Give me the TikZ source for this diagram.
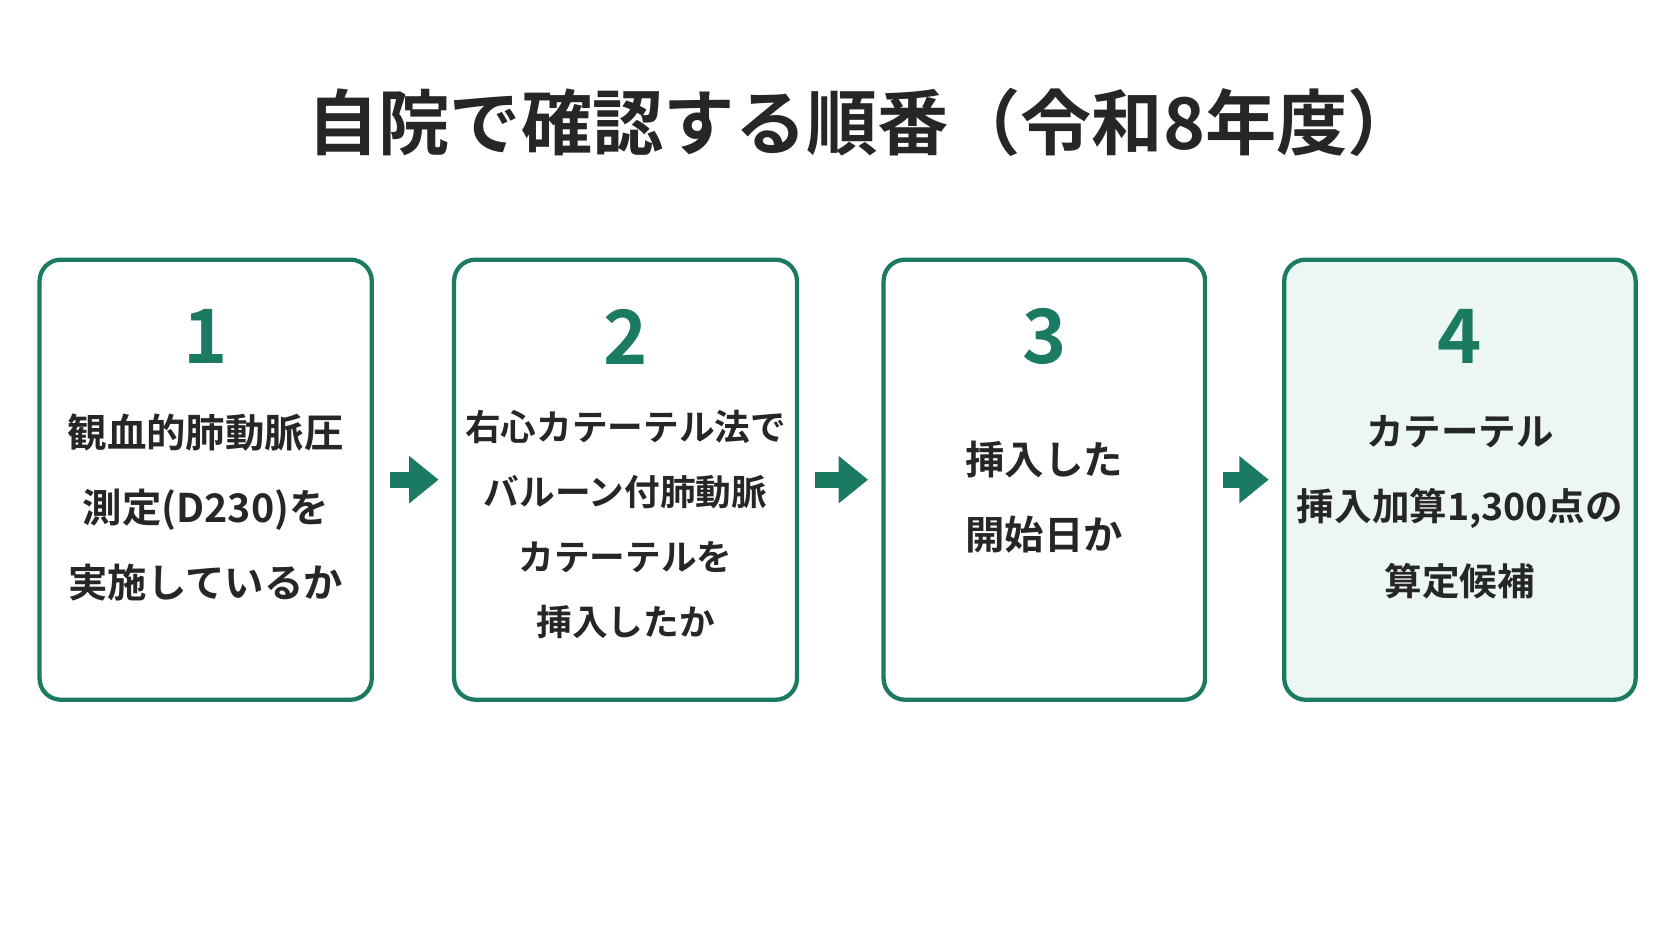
\documentclass[tikz,border=0pt]{standalone}
\usepackage{fontspec}
\newfontfamily\cjk{Noto Sans CJK JP}[BoldFont={* Bold}]
\usetikzlibrary{arrows.meta}
\definecolor{stepgreen}{RGB}{26,122,98}
\definecolor{lastfill}{RGB}{236,246,242}

\begin{document}
\begin{tikzpicture}[%
  x=0.02cm, y=-0.02cm,
  >={Triangle[length=0.55cm,width=0.85cm]},
  stepbox/.style={draw=stepgreen, line width=0.08cm, rounded corners=0.4cm,
    minimum height=8.24cm, fill=white},
  num/.style={text=stepgreen, font=\cjk\bfseries\fontsize{40}{40}\selectfont},
  body/.style={align=center, text=black!85},
  go/.style={->, draw=stepgreen, line width=0.3cm, shorten <=0.3cm, shorten >=0.25cm},
]
  \useasboundingbox (0,0) rectangle (1565,881);

  \node[font=\cjk\bfseries\fontsize{38}{38}\selectfont, text=black!85] (title) at (808,115) {自院で確認する順番（令和8年度）};

  \node[stepbox, minimum width=6.22cm] (b1) at (192.5,449) {};
  \node[stepbox, minimum width=6.42cm] (b2) at (585.5,449) {};
  \node[stepbox, minimum width=6.02cm] (b3) at (977.5,449) {};
  \node[stepbox, minimum width=6.58cm, fill=lastfill] (b4) at (1366.5,449) {};

  \node[num] (n1) at (192.5,315) {1};
  \node[num] (n2) at (585.5,315) {2};
  \node[num] (n3) at (977.5,315) {3};
  \node[num] (n4) at (1366.5,315) {4};

  \node[body, font=\cjk\bfseries\fontsize{21}{40}\selectfont] (t1) at (192.5,475)
    {観血的肺動脈圧\\測定(D230)を\\実施しているか};
  \node[body, font=\cjk\bfseries\fontsize{19}{34.5}\selectfont] (t2) at (585.5,491)
    {右心カテーテル法で\\バルーン付肺動脈\\カテーテルを\\挿入したか};
  \node[body, font=\cjk\bfseries\fontsize{21}{40}\selectfont] (t3) at (977.5,465)
    {挿入した\\開始日か};
  \node[body, font=\cjk\bfseries\fontsize{20}{40}\selectfont] (t4) at (1366.5,475)
    {カテーテル\\挿入加算1,300点の\\算定候補};

  \draw[go] (b1) -- (b2);
  \draw[go] (b2) -- (b3);
  \draw[go] (b3) -- (b4);
\end{tikzpicture}
\end{document}
